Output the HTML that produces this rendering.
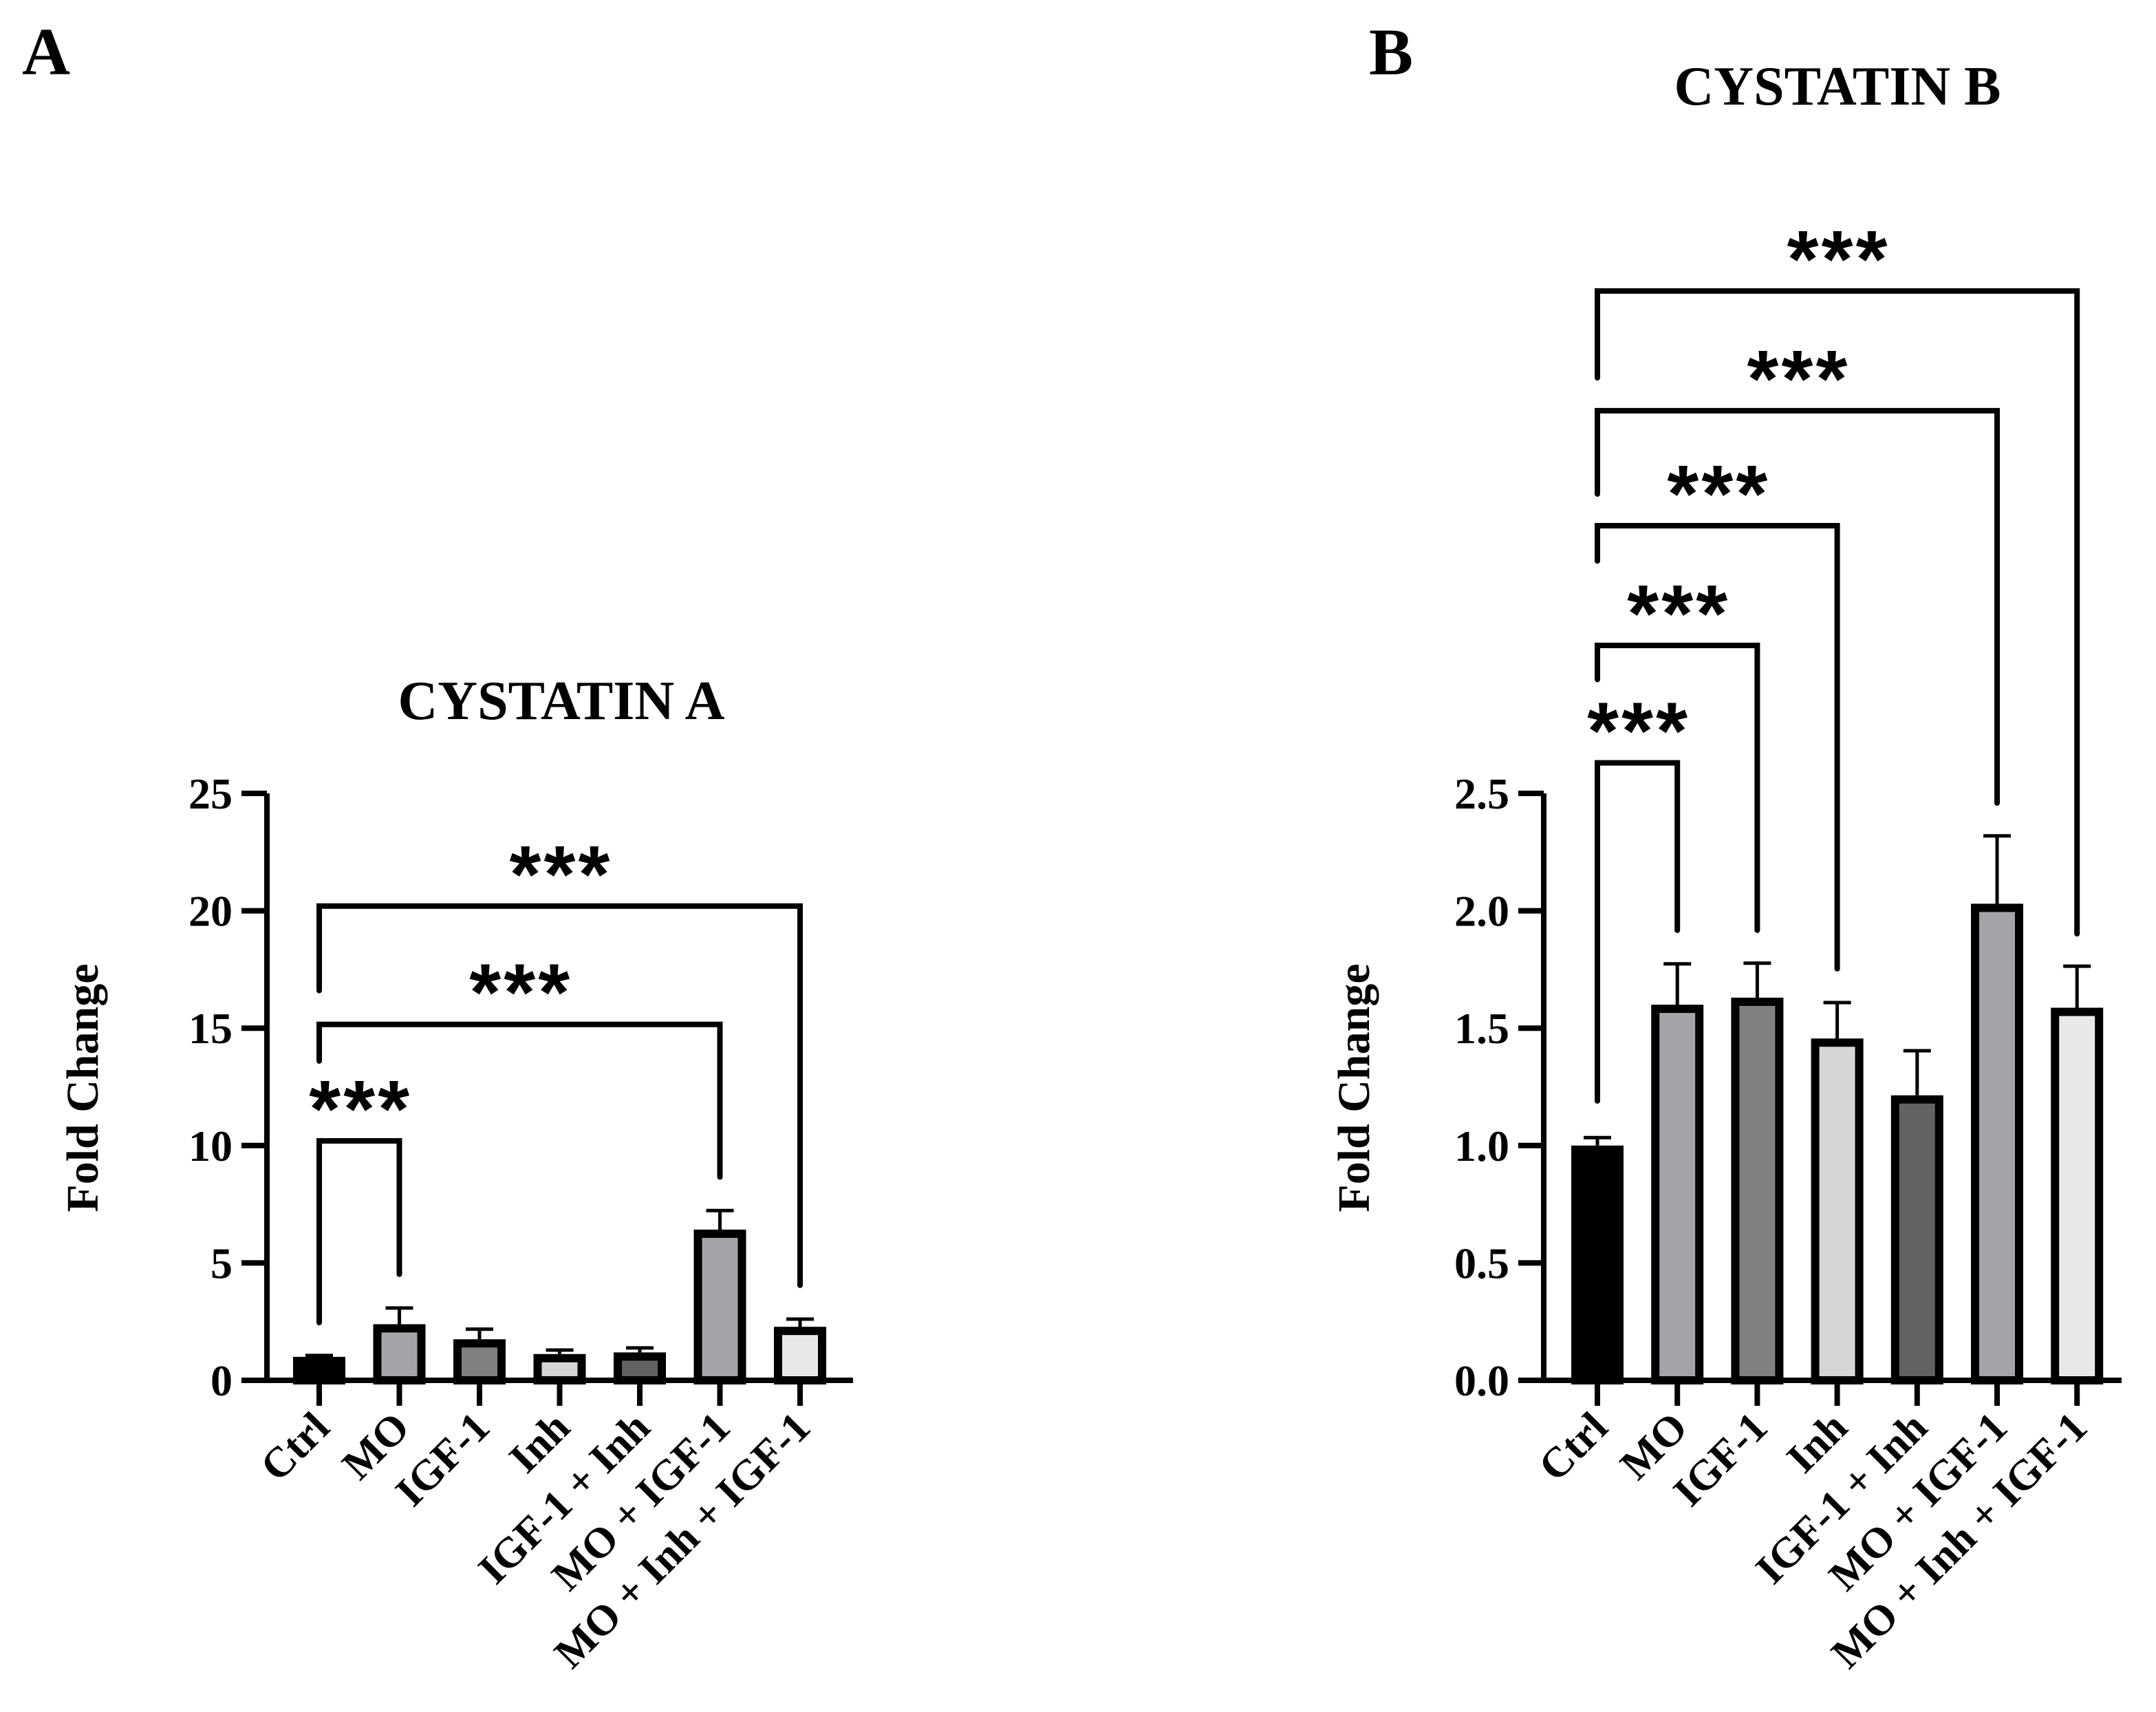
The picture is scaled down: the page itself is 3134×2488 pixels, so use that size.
<!DOCTYPE html>
<html><head><meta charset="utf-8"><style>
html,body{margin:0;padding:0;background:#fff;}
svg{display:block;font-family:"Liberation Serif",serif;font-weight:bold;}
</style></head>
<body>
<svg id="fig" width="3134" height="2488" viewBox="0 0 3134 2488" xmlns="http://www.w3.org/2000/svg">
<text x="32" y="108" font-size="97">A</text>
<text x="1990" y="108" font-size="96">B</text>
<text x="816" y="1045" font-size="80" text-anchor="middle">CYSTATIN A</text>
<text x="2671" y="152" font-size="80" text-anchor="middle">CYSTATIN B</text>
<text transform="translate(142,1581) rotate(-90)" font-size="66" text-anchor="middle">Fold Change</text>
<text transform="translate(1990,1581) rotate(-90)" font-size="66" text-anchor="middle">Fold Change</text>
<g id="chartA"></g>
<g id="chartB"></g>
</svg>
<script>
const categories = ["Ctrl","MO","IGF-1","Inh","IGF-1 + Inh","MO + IGF-1","MO + Inh + IGF-1"];
const fills = ["#000000","#a4a4a8","#808080","#d6d6d6","#626262","#a4a4a8","#e8e8e8"];
const valuesA = [1.0, 2.39, 1.75, 1.12, 1.19, 6.42, 2.28];
const errorsA = [1.06, 3.08, 2.18, 1.29, 1.38, 7.23, 2.61];
const ticksA = ["0","5","10","15","20","25"];
const tickValsA = [0,5,10,15,20,25];
// brackets: [fromIndex, toIndex, topValue, leftBottomValue, rightBottomValue]
const bracketsA = [[0,1,10.2,2.46,4.52],[0,5,15.16,13.6,8.66],[0,6,20.2,16.6,4.05]];
const valuesB = [1.0, 1.60, 1.63, 1.456, 1.214, 2.03, 1.587];
const errorsB = [1.034, 1.774, 1.777, 1.609, 1.404, 2.319, 1.764];
const ticksB = ["0.0","0.5","1.0","1.5","2.0","2.5"];
const tickValsB = [0,0.5,1,1.5,2,2.5];
const bracketsB = [[0,1,2.63,1.19,1.917],[0,2,3.13,2.985,1.917],[0,3,3.64,3.49,1.753],[0,5,4.13,3.775,2.459],[0,6,4.64,4.27,1.902]];
const NS="http://www.w3.org/2000/svg";
function mk(parent,tag,attrs){const e=document.createElementNS(NS,tag);for(const k in attrs)e.setAttribute(k,attrs[k]);parent.appendChild(e);return e;}
function draw(gid,vals,errs,ticks,tickVals,brackets,cfg,prefix){
  const g=document.getElementById(gid);
  const y=v=>cfg.y0-v*(cfg.y0-cfg.yTop)/cfg.max;
  const x=i=>cfg.x0+i*cfg.step;
  vals.forEach((v,i)=>{
    const r=mk(g,"rect",{x:x(i)-32,y:y(v)+6,width:64,height:Math.max(0,cfg.y0-y(v)-6),fill:fills[i],stroke:"#000","stroke-width":12});
    
    
    const e=mk(g,"path",{d:`M${x(i)} ${y(v)} V${y(errs[i])} M${x(i)-20} ${y(errs[i])} H${x(i)+20}`,stroke:"#000","stroke-width":5,fill:"none"});
    
    
  });
  const ax=mk(g,"path",{d:`M${cfg.axX} ${y(cfg.max)} V${cfg.y0} M${cfg.axX-37} ${cfg.y0} H${cfg.xEnd}`,stroke:"#000","stroke-width":8,fill:"none"});
  
  
  tickVals.forEach((t,i)=>{
    const tk=mk(g,"line",{x1:cfg.axX-37,x2:cfg.axX,y1:y(t),y2:y(t),stroke:"#000","stroke-width":8});
    
    
    const tl=mk(g,"text",{x:cfg.axX-50,y:y(t)+22,"font-size":64,"text-anchor":"end"});
    tl.textContent=ticks[i];
    
    
  });
  categories.forEach((c,i)=>{
    const tk=mk(g,"line",{x1:x(i),x2:x(i),y1:cfg.y0,y2:cfg.y0+37,stroke:"#000","stroke-width":8});
    
    
    const tl=mk(g,"text",{transform:`translate(${x(i)+18},${cfg.y0+72}) rotate(-45)`,"font-size":62,"text-anchor":"end"});
    tl.textContent=c;
    
    
  });
  brackets.forEach(b=>{
    const p=mk(g,"path",{d:`M${x(b[0])} ${y(b[3])} V${y(b[2])} H${x(b[1])} V${y(b[4])}`,stroke:"#000","stroke-width":8,fill:"none","stroke-linecap":"round"});
    
    
    const cx=(x(b[0])+x(b[1]))/2;
    [-50,0,50].forEach(dx=>{
      const s=mk(g,"text",{x:cx+dx,y:y(b[2])-6,"font-size":118,"text-anchor":"middle","font-family":"Liberation Sans, sans-serif"});
      s.textContent="*";
      
      
    });
  });
}
draw("chartA",valuesA,errorsA,ticksA,tickValsA,bracketsA,{x0:464,step:116.5,y0:2006,yTop:1153,max:25,axX:388,xEnd:1240},"a");
draw("chartB",valuesB,errorsB,ticksB,tickValsB,bracketsB,{x0:2322,step:116.2,y0:2006,yTop:1153,max:2.5,axX:2244,xEnd:3084},"b");
</script>
</body></html>
